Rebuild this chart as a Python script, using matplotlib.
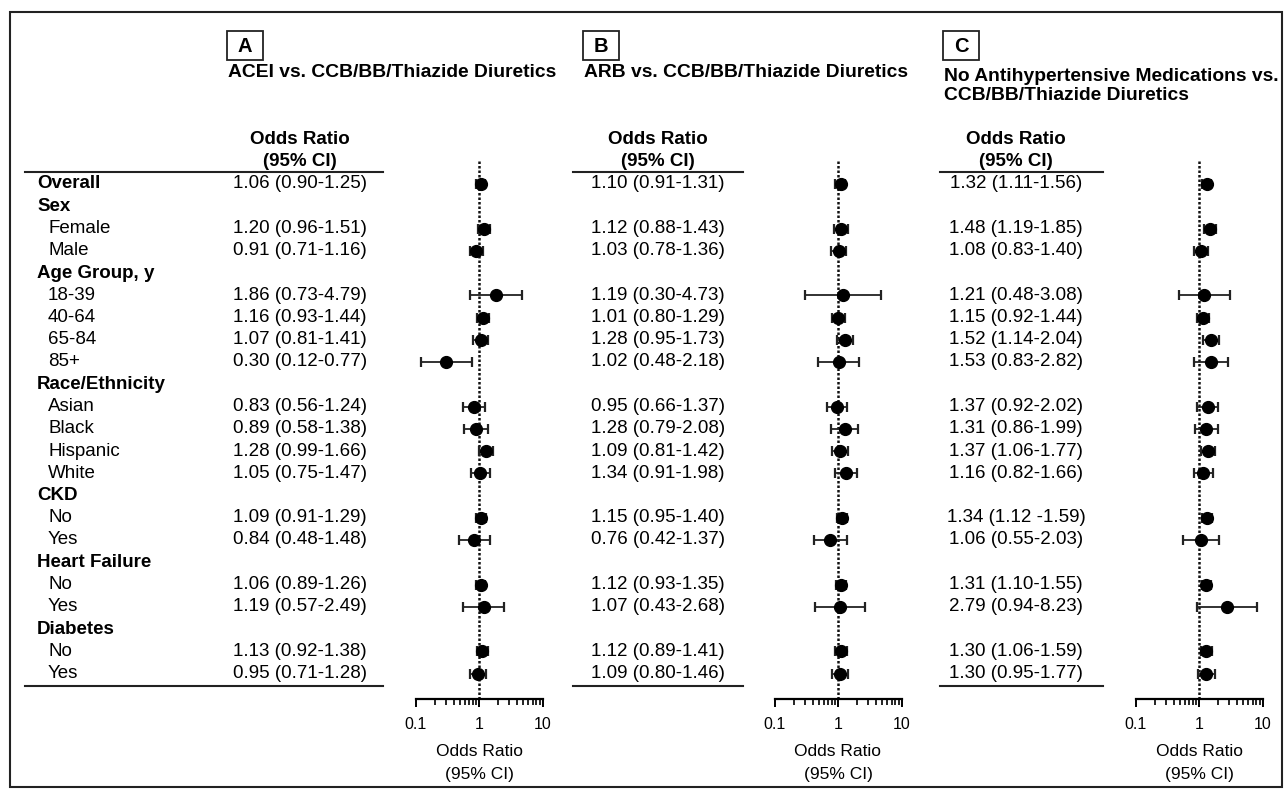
import matplotlib
matplotlib.use("Agg")
import matplotlib.pyplot as plt
from matplotlib.patches import Rectangle
from matplotlib.ticker import LogLocator, NullFormatter, FixedLocator, FixedFormatter
import numpy as np

plt.rcParams['font.family'] = ['Liberation Sans', 'DejaVu Sans']

# rows of the table (header rows have no estimate)
row_labels = ["Overall", "Sex", "Female", "Male", "Age Group, y", "18-39", "40-64", "65-84", "85+",
              "Race/Ethnicity", "Asian", "Black", "Hispanic", "White", "CKD", "No", "Yes",
              "Heart Failure", "No", "Yes", "Diabetes", "No", "Yes"]
row_is_header = [True, True, False, False, True, False, False, False, False,
                 True, False, False, False, False, True, False, False,
                 True, False, False, True, False, False]
# rows that carry an estimate: Overall + subgroups
data_rows = [0, 2, 3, 5, 6, 7, 8, 10, 11, 12, 13, 15, 16, 18, 19, 21, 22]

panel_letters = ["A", "B", "C"]
panel_titles = ["ACEI vs. CCB/BB/Thiazide Diuretics",
                "ARB vs. CCB/BB/Thiazide Diuretics",
                "No Antihypertensive Medications vs.\nCCB/BB/Thiazide Diuretics"]

acei_or = [1.06, 1.20, 0.91, 1.86, 1.16, 1.07, 0.30, 0.83, 0.89, 1.28, 1.05, 1.09, 0.84, 1.06, 1.19, 1.13, 0.95]
acei_lo = [0.90, 0.96, 0.71, 0.73, 0.93, 0.81, 0.12, 0.56, 0.58, 0.99, 0.75, 0.91, 0.48, 0.89, 0.57, 0.92, 0.71]
acei_hi = [1.25, 1.51, 1.16, 4.79, 1.44, 1.41, 0.77, 1.24, 1.38, 1.66, 1.47, 1.29, 1.48, 1.26, 2.49, 1.38, 1.28]

arb_or = [1.10, 1.12, 1.03, 1.19, 1.01, 1.28, 1.02, 0.95, 1.28, 1.09, 1.34, 1.15, 0.76, 1.12, 1.07, 1.12, 1.09]
arb_lo = [0.91, 0.88, 0.78, 0.30, 0.80, 0.95, 0.48, 0.66, 0.79, 0.81, 0.91, 0.95, 0.42, 0.93, 0.43, 0.89, 0.80]
arb_hi = [1.31, 1.43, 1.36, 4.73, 1.29, 1.73, 2.18, 1.37, 2.08, 1.42, 1.98, 1.40, 1.37, 1.35, 2.68, 1.41, 1.46]

none_or = [1.32, 1.48, 1.08, 1.21, 1.15, 1.52, 1.53, 1.37, 1.31, 1.37, 1.16, 1.34, 1.06, 1.31, 2.79, 1.30, 1.30]
none_lo = [1.11, 1.19, 0.83, 0.48, 0.92, 1.14, 0.83, 0.92, 0.86, 1.06, 0.82, 1.12, 0.55, 1.10, 0.94, 1.06, 0.95]
none_hi = [1.56, 1.85, 1.40, 3.08, 1.44, 2.04, 2.82, 2.02, 1.99, 1.77, 1.66, 1.59, 2.03, 1.55, 8.23, 1.59, 1.77]

panels = [(acei_or, acei_lo, acei_hi), (arb_or, arb_lo, arb_hi), (none_or, none_lo, none_hi)]

# layout in pixels (figure 1286 x 796)
W, H = 1286, 796
row_y0, row_dy = 184, 22.25
fs = 13.5

fig = plt.figure(figsize=(W / 100, H / 100), dpi=100)
bg = fig.add_axes([0, 0, 1, 1])
bg.set_xlim(0, W)
bg.set_ylim(H, 0)
bg.axis("off")

# outer frame
bg.add_patch(Rectangle((10, 12), 1272, 775, fill=False, lw=1.5, ec="#222222"))

# row labels
for i, (lab, hdr) in enumerate(zip(row_labels, row_is_header)):
    y = row_y0 + i * row_dy
    if hdr:
        bg.text(37, y, lab, fontsize=fs, fontweight="bold", va="center", ha="left")
    else:
        bg.text(48, y, lab, fontsize=fs, va="center", ha="left")

box_x = [227, 583, 943]
text_cx = [300, 658, 1016]
line_x = [(25, 383), (573, 743), (940, 1103)]
one_px = [479, 838, 1199]   # pixel x of OR = 1
decade = 63.5

for p, (est, lo, hi) in enumerate(panels):
    # panel letter box + title
    bx = box_x[p]
    bg.add_patch(Rectangle((bx, 31), 36, 29, fill=False, lw=1.3, ec="#222222"))
    bg.text(bx + 18, 46, panel_letters[p], fontsize=14.5, fontweight="bold", ha="center", va="center")
    title_top = 68 if p == 2 else 64
    bg.text(bx + 1, title_top, panel_titles[p], fontsize=13.9, fontweight="bold", ha="left", va="top",
            linespacing=1.15)

    # column header and rules
    cx = text_cx[p]
    bg.text(cx, 140, "Odds Ratio", fontsize=fs, fontweight="bold", ha="center", va="center")
    bg.text(cx, 162, "(95% CI)", fontsize=fs, fontweight="bold", ha="center", va="center")
    x0, x1 = line_x[p]
    bg.plot([x0, x1], [172, 172], color="#222222", lw=1.5)
    bg.plot([x0, x1], [686, 686], color="#222222", lw=1.5)

    # estimate text
    for k, r in enumerate(data_rows):
        sep = " -" if (p == 2 and r == 15) else "-"
        s = f"{est[k]:.2f} ({lo[k]:.2f}{sep}{hi[k]:.2f})"
        bg.text(cx, row_y0 + r * row_dy, s, fontsize=fs, ha="center", va="center")

    # forest plot axes
    left_px = one_px[p] - decade
    right_px = one_px[p] + decade
    top_px, bot_px = 160, 699
    ax = fig.add_axes([left_px / W, 1 - bot_px / H, (right_px - left_px) / W, (bot_px - top_px) / H])
    ax.set_facecolor("none")
    ax.set_xscale("log")
    ax.set_xlim(0.1, 10)
    ax.set_ylim((bot_px - row_y0) / row_dy, (top_px - row_y0) / row_dy)
    ax.axvline(1, color="#111111", ls=(0, (1, 0.8)), lw=1.8, zorder=1)

    est_a = np.array(est)
    lo_a = np.array(lo)
    hi_a = np.array(hi)
    ax.errorbar(est_a, data_rows, xerr=[est_a - lo_a, hi_a - est_a], fmt="o", color="black",
                ecolor="#222222", ms=8.5, elinewidth=1.3, capsize=3.5, capthick=1.6, zorder=3)

    for side in ["top", "right", "left"]:
        ax.spines[side].set_visible(False)
    ax.spines["bottom"].set_linewidth(1.6)
    ax.set_yticks([])
    ax.xaxis.set_major_locator(FixedLocator([0.1, 1, 10]))
    ax.xaxis.set_major_formatter(FixedFormatter(["0.1", "1", "10"]))
    ax.xaxis.set_minor_locator(LogLocator(base=10, subs=np.arange(2, 10)))
    ax.xaxis.set_minor_formatter(NullFormatter())
    ax.tick_params(axis="x", which="major", length=6, width=1.4, labelsize=11.5, pad=7)
    ax.tick_params(axis="x", which="minor", length=4, width=1.2)

    bg.text(one_px[p], 752, "Odds Ratio", fontsize=12.5, ha="center", va="center")
    bg.text(one_px[p], 775, "(95% CI)", fontsize=12.5, ha="center", va="center")

fig.savefig("out.png", dpi=100)
